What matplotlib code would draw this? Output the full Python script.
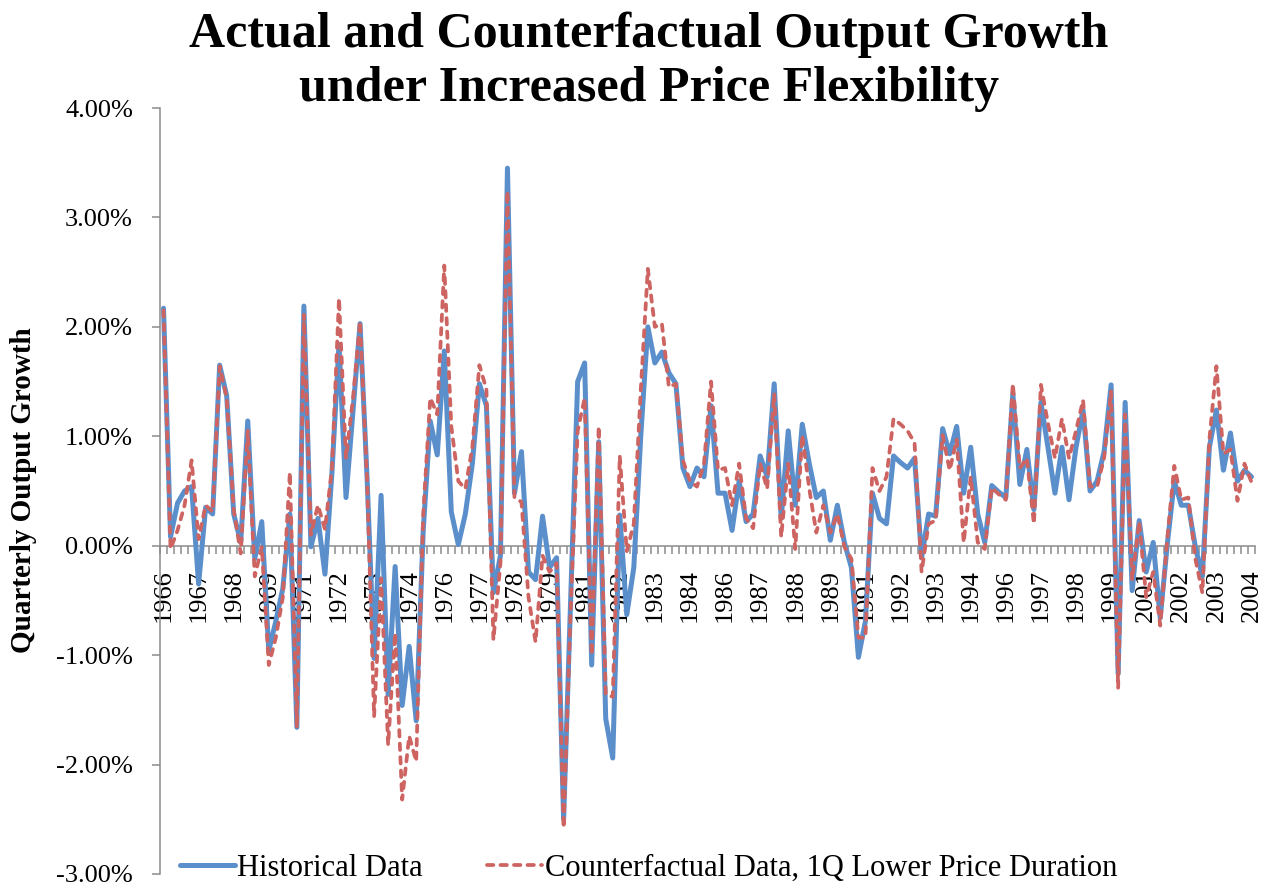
import numpy as np
import matplotlib
matplotlib.use("Agg")
import matplotlib.pyplot as plt
from matplotlib.ticker import FuncFormatter, FixedLocator

# ---------------- data (quarterly output growth, %) ----------------
start_year = 1966
n_quarters = 156  # 1966Q1 .. 2004Q4

historical = [
    2.17, 0.08, 0.39, 0.50, 0.54, -0.35, 0.35, 0.29, 1.65, 1.37,
    0.29, 0.03, 1.14, -0.12, 0.22, -0.96, -0.69, -0.39, 0.29, -1.66,
    2.19, -0.01, 0.25, -0.26, 0.67, 1.84, 0.44, 1.24, 2.03, 0.62,
    -1.03, 0.46, -1.36, -0.19, -1.46, -0.92, -1.60, 0.14, 1.14, 0.83,
    1.78, 0.31, 0.01, 0.29, 0.75, 1.48, 1.28, -0.43, -0.09, 3.45,
    0.48, 0.86, -0.24, -0.31, 0.27, -0.20, -0.11, -2.50, -0.50, 1.50,
    1.67, -1.09, 0.95, -1.58, -1.94, 0.28, -0.63, -0.20, 1.01, 2.00,
    1.67, 1.77, 1.58, 1.48, 0.71, 0.54, 0.71, 0.63, 1.28, 0.48,
    0.48, 0.14, 0.59, 0.22, 0.29, 0.82, 0.63, 1.48, 0.25, 1.05,
    0.37, 1.11, 0.75, 0.44, 0.50, 0.05, 0.37, 0.03, -0.20, -1.02,
    -0.69, 0.48, 0.25, 0.20, 0.82, 0.76, 0.71, 0.80, -0.11, 0.29,
    0.27, 1.07, 0.84, 1.09, 0.48, 0.90, 0.29, 0.03, 0.55, 0.49,
    0.44, 1.39, 0.56, 0.88, 0.33, 1.31, 0.90, 0.48, 0.90, 0.42,
    0.90, 1.24, 0.50, 0.59, 0.86, 1.47, -1.17, 1.31, -0.41, 0.23,
    -0.24, 0.03, -0.66, 0.01, 0.59, 0.37, 0.37, -0.01, -0.28, 0.90,
    1.24, 0.69, 1.03, 0.59, 0.69, 0.63,
]

counterfactual = [
    2.15, -0.03, 0.14, 0.37, 0.78, 0.06, 0.37, 0.31, 1.64, 1.35,
    0.33, -0.07, 1.05, -0.28, -0.01, -1.09, -0.84, -0.47, 0.67, -1.66,
    2.11, 0.10, 0.37, 0.15, 0.71, 2.26, 0.80, 1.35, 2.05, 0.60,
    -1.56, -0.30, -1.82, -0.80, -2.32, -1.74, -1.97, 0.29, 1.35, 1.20,
    2.56, 1.09, 0.59, 0.52, 0.90, 1.65, 1.43, -0.86, -0.16, 3.24,
    0.44, 0.40, -0.47, -0.88, -0.09, -0.24, -0.16, -2.58, -0.60, 1.05,
    1.35, -1.00, 1.09, -1.36, -1.38, 0.82, -0.05, 0.20, 1.43, 2.53,
    2.00, 2.03, 1.45, 1.48, 0.78, 0.59, 0.54, 0.75, 1.50, 0.69,
    0.71, 0.37, 0.75, 0.25, 0.16, 0.75, 0.52, 1.39, 0.08, 0.75,
    -0.03, 1.01, 0.52, 0.12, 0.37, 0.12, 0.29, -0.01, -0.12, -0.84,
    -0.84, 0.71, 0.50, 0.63, 1.16, 1.11, 1.05, 0.94, -0.24, 0.20,
    0.23, 1.01, 0.69, 0.97, 0.03, 0.63, 0.03, -0.03, 0.53, 0.47,
    0.42, 1.48, 0.71, 0.80, 0.20, 1.47, 1.12, 0.80, 1.16, 0.80,
    1.05, 1.33, 0.54, 0.54, 0.80, 1.41, -1.30, 1.20, -0.31, 0.22,
    -0.47, -0.24, -0.73, 0.06, 0.73, 0.42, 0.44, -0.12, -0.43, 0.97,
    1.64, 0.84, 0.88, 0.41, 0.75, 0.58,
]

label_every = 5
years = [start_year + q // 4 for q in range(n_quarters)]
y_ticks = [-3, -2, -1, 0, 1, 2, 3, 4]

title = "Actual and Counterfactual Output Growth\nunder Increased Price Flexibility"
y_label = "Quarterly Output Growth"
series_names = ["Historical Data", "Counterfactual Data, 1Q Lower Price Duration"]

# ---------------- style ----------------
SERIF = ["Liberation Serif", "DejaVu Serif"]
plt.rcParams["font.family"] = SERIF
BLUE = "#5B8FCB"
RED = "#CD6461"
GRAY = "#8C8C8C"

W, H = 1282, 892
fig = plt.figure(figsize=(W / 100, H / 100), dpi=100)
ax = fig.add_axes([160 / W, 1 - 874 / H, (1255 - 160) / W, (874 - 108) / H])

x = np.arange(n_quarters)
ax.plot(x, historical, color=BLUE, lw=3.6, solid_joinstyle="round",
        solid_capstyle="round", label=series_names[0], zorder=3)
ax.plot(x, counterfactual, color=RED, lw=2.7, dashes=(1.7, 1.9),
        dash_capstyle="round", dash_joinstyle="round",
        label=series_names[1], zorder=4)

ax.set_xlim(-0.5, n_quarters - 0.5)
ax.set_ylim(-3, 4)

# y axis
ax.yaxis.set_major_locator(FixedLocator(y_ticks))
ax.yaxis.set_major_formatter(FuncFormatter(lambda v, p: f"{v:.2f}%"))
ax.tick_params(axis="y", which="major", direction="out", length=5.5,
               width=1.1, color=GRAY, labelsize=19, pad=14)

# x axis at zero, category ticks between categories
ax.spines["bottom"].set_position(("data", 0))
lab_pos = list(range(0, n_quarters, label_every))
ax.xaxis.set_major_locator(FixedLocator(lab_pos))
ax.set_xticklabels([str(years[i]) for i in lab_pos], rotation=90, va="top",
                   ha="center")
ax.xaxis.set_minor_locator(FixedLocator(np.arange(-0.5, n_quarters, 1.0)))
ax.tick_params(axis="x", which="major", length=0, labelsize=19, pad=17)
ax.tick_params(axis="x", which="minor", direction="out", length=5.5,
               width=1.1, color=GRAY)

for s in ["top", "right"]:
    ax.spines[s].set_visible(False)
for s in ["left", "bottom"]:
    ax.spines[s].set_color(GRAY)
    ax.spines[s].set_linewidth(1.1)

fig.text(649 / W, 1 - 12 / H, title, ha="center", va="top", fontsize=36,
         fontweight="bold", linespacing=1.22)
fig.text(24 / W, 1 - 490 / H, y_label, rotation=90, ha="center",
         va="center", fontsize=21, fontweight="bold")

leg = fig.legend(loc="center left", bbox_to_anchor=(180 / W, 1 - 868 / H),
                 ncol=2, frameon=False, fontsize=22, handlelength=1.8,
                 handletextpad=0.08, columnspacing=2.1, borderpad=0,
                 borderaxespad=0)

fig.savefig("out.png", dpi=100)
